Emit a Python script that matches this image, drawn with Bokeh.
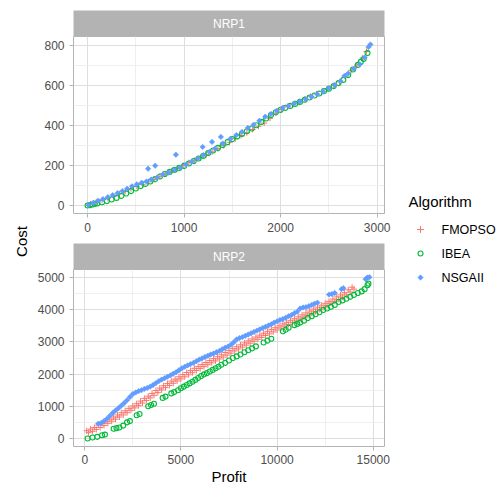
from bokeh.plotting import figure
from bokeh.layouts import row, column
from bokeh.models import Range1d, FixedTicker
from bokeh.core.properties import value
from bokeh.embed import file_html
from bokeh.resources import INLINE
import math

# ---------------- data ----------------
algorithms = ["FMOPSO", "IBEA", "NSGAII"]
colors = ["#F8766D", "#00BA38", "#619CFF"]
panels = ["NRP1", "NRP2"]
legend_title = "Algorithm"

# NRP1
nrp1_fmopso_profit = [30, 90, 150, 210, 270, 330, 390, 450, 510, 570, 630, 690, 750, 810, 870, 930, 990, 1050,
                      1110, 1170, 1230, 1290, 1350, 1410, 1470, 1530, 1590, 1650, 1710, 1770, 1830, 1890, 1950,
                      2010, 2070, 2130, 2190, 2250, 2310, 2370, 2430, 2490, 2550, 2610, 2670, 2730, 2790, 2850, 2890]
nrp1_fmopso_cost = [8, 18, 26, 36, 46, 58, 72, 84, 96, 106, 118, 130, 146, 158, 172, 185, 200, 214,
                    226, 240, 254, 268, 284, 300, 316, 334, 350, 364, 380, 396, 412, 436, 462,
                    480, 494, 506, 518, 532, 546, 558, 570, 584, 600, 618, 644, 676, 702, 738, 770]

nrp1_ibea_profit = [0, 25, 50, 75, 100, 150, 200, 250, 300, 350, 400, 450, 500, 550, 600, 650, 700, 750, 800,
                    850, 900, 950, 1000, 1050, 1100, 1150, 1200, 1250, 1300, 1350, 1400, 1450, 1500, 1550,
                    1600, 1650, 1700, 1750, 1800, 1850, 1900, 1950, 2000, 2050, 2100, 2150, 2200, 2250, 2300,
                    2350, 2400, 2450, 2500, 2550, 2600, 2650, 2700, 2750, 2800, 2830, 2860, 2900]
nrp1_ibea_cost = [0, 2, 5, 8, 10, 16, 22, 30, 38, 48, 60, 72, 85, 97, 108, 120, 132, 145, 157,
                  168, 178, 188, 198, 210, 222, 235, 248, 262, 275, 288, 302, 317, 332, 345,
                  358, 371, 385, 401, 418, 435, 452, 466, 478, 488, 498, 508, 518, 529, 540,
                  550, 560, 572, 584, 597, 612, 628, 652, 680, 703, 718, 732, 762]

nrp1_nsgaii_profit = [10, 60, 110, 160, 210, 260, 310, 360, 410, 460, 510, 560, 610, 660, 720, 780, 840, 900,
                      960, 1020, 1080, 1140, 1200, 1260, 1320, 1400, 1480, 1540, 1600, 1660, 1720, 1780, 1840,
                      1900, 1960, 2020, 2080, 2140, 2200, 2260, 2320, 2380, 2440, 2500, 2560, 2620, 2660, 2700,
                      2760, 2820, 2870, 2910, 2930, 627, 700, 915, 1192, 1289, 1381]
nrp1_nsgaii_cost = [3, 14, 24, 32, 42, 52, 62, 72, 84, 96, 106, 114, 120, 130, 140, 155, 165, 178,
                    190, 205, 220, 235, 252, 268, 284, 310, 334, 352, 368, 388, 404, 424, 444,
                    458, 474, 488, 498, 510, 520, 532, 544, 556, 570, 586, 602, 622, 648, 660,
                    684, 706, 740, 792, 805, 184, 199, 254, 293, 318, 343]

# NRP2
nrp2_fmopso_profit = [100, 300, 500, 700, 900, 1100, 1300, 1500, 1700, 1900, 2100, 2300, 2500, 2700, 2900,
                      3100, 3300, 3500, 3700, 3900, 4100, 4300, 4500, 4700, 4900, 5100, 5300, 5500, 5700,
                      5900, 6100, 6300, 6500, 6700, 6900, 7100, 7300, 7500, 7700, 7900, 8100, 8300, 8500,
                      8700, 8900, 9100, 9300, 9500, 9700, 9900, 10100, 10300, 10500, 10700, 10900, 11100,
                      11300, 11500, 11700, 11900, 12100, 12300, 12500, 12700, 12900, 13100, 13300, 13500,
                      13700, 13900,
                      200, 400, 600, 800, 1000, 1200, 1400, 1600, 1800, 2000, 2200, 2400, 2600, 2800, 3000,
                      3200, 3400, 3600, 3800, 4000, 4200, 4400, 4600, 4800, 5000, 5200, 5400, 5600, 5800,
                      6000, 6200, 6400, 6600, 6800, 7000, 7200, 7400, 7600, 7800, 8000, 8200, 8400, 8600,
                      8800, 9000, 9200, 9400, 9600, 9800, 10000, 10200, 10400, 10600, 10800, 11000, 11200,
                      11400, 11600, 11800, 12000, 12200, 12400, 12600, 12800, 13000, 13200, 13400, 13600,
                      13800, 14000]
nrp2_fmopso_cost = [240, 290, 340, 415, 470, 530, 600, 665, 730, 800, 860, 935, 1010, 1080, 1160,
                    1245, 1315, 1400, 1490, 1565, 1640, 1710, 1780, 1845, 1915, 1985, 2050, 2110, 2180,
                    2240, 2300, 2360, 2420, 2480, 2540, 2600, 2670, 2730, 2790, 2850, 2910, 2970, 3030,
                    3090, 3150, 3210, 3270, 3330, 3390, 3440, 3500, 3560, 3610, 3670, 3720, 3780,
                    3840, 3900, 3960, 4020, 4080, 4140, 4200, 4260, 4330, 4400, 4460, 4530,
                    4620, 4700,
                    180, 220, 280, 340, 400, 470, 535, 600, 665, 730, 800, 875, 950, 1020, 1100,
                    1180, 1260, 1340, 1425, 1510, 1580, 1645, 1715, 1785, 1850, 1915, 1980, 2045, 2110,
                    2170, 2230, 2290, 2350, 2410, 2470, 2530, 2590, 2650, 2720, 2780, 2840, 2900, 2960,
                    3020, 3080, 3140, 3200, 3250, 3310, 3370, 3430, 3490, 3540, 3600, 3650, 3710,
                    3770, 3830, 3890, 3950, 4010, 4070, 4130, 4200, 4260, 4320, 4390, 4460,
                    4550, 4640]

nrp2_ibea_profit = [150, 400, 650, 900, 1050, 1500, 1650, 1800, 2000, 2200, 2350, 2700, 2850, 3300, 3450, 3600,
                    4050, 4200, 4500, 4650, 4850, 5000, 5150, 5300, 5450, 5600, 5750, 5900, 6050, 6200, 6350,
                    6500, 6650, 6800, 6950, 7100, 7300, 7500, 7700, 7900, 8100, 8300, 8500, 8700, 8900, 9300,
                    9500, 9700, 10300, 10450, 10600, 10900, 11050, 11200, 11400, 11600, 11800, 12000, 12200,
                    12400, 12600, 12800, 13000, 13200, 13400, 13600, 13800, 14000, 14200, 14400, 14550,
                    14700, 14750]
nrp2_ibea_cost = [0, 30, 50, 100, 120, 300, 320, 340, 400, 500, 540, 720, 760, 1000, 1040, 1080,
                  1260, 1300, 1400, 1440, 1500, 1560, 1610, 1660, 1710, 1760, 1820, 1880, 1940, 1990, 2030,
                  2080, 2130, 2180, 2230, 2290, 2350, 2420, 2500, 2550, 2610, 2680, 2740, 2800, 2860, 2980,
                  3040, 3100, 3330, 3380, 3440, 3520, 3560, 3600, 3660, 3740, 3800, 3860, 3920,
                  3990, 4040, 4090, 4150, 4240, 4290, 4340, 4400, 4460, 4520, 4570, 4640,
                  4760, 4810]

nrp2_nsgaii_profit = [700, 850, 1000, 1150, 1300, 1450, 1600, 1750, 1900, 2050, 2200, 2350, 2500, 2650, 2800,
                      2950, 3100, 3250, 3400, 3550, 3700, 3850, 4000, 4150, 4300, 4450, 4600, 4750, 4900, 5050,
                      5200, 5350, 5500, 5650, 5800, 5950, 6100, 6250, 6400, 6550, 6700, 6850, 7000, 7150, 7300,
                      7450, 7600, 7750, 7900, 8050, 8200, 8350, 8500, 8650, 8800, 8950, 9100, 9250, 9400, 9550,
                      9700, 9850, 10000, 10150, 10300, 10450, 10600, 10750, 10900, 11050, 11200, 11350, 11500,
                      11650, 11800, 11950, 12100, 12700, 12850, 13000, 13350, 13450, 14600, 14700, 14800]
nrp2_nsgaii_cost = [460, 480, 540, 610, 700, 790, 870, 940, 1020, 1100, 1190, 1290, 1380, 1430, 1470,
                    1500, 1540, 1570, 1610, 1660, 1720, 1780, 1830, 1870, 1920, 1960, 2010, 2060, 2120, 2180,
                    2230, 2270, 2310, 2350, 2400, 2450, 2490, 2530, 2570, 2610, 2640, 2680, 2720, 2770, 2820,
                    2860, 2910, 2990, 3080, 3120, 3150, 3190, 3230, 3270, 3310, 3350, 3390, 3430, 3470, 3510,
                    3550, 3600, 3640, 3680, 3710, 3750, 3800, 3840, 3890, 3940, 4040, 4070, 4080,
                    4110, 4150, 4190, 4220, 4470, 4490, 4520, 4640, 4670, 4950, 5000, 5010]

nrp1_x_ticks = [0, 1000, 2000, 3000]
nrp1_x_minor = [500, 1500, 2500]
nrp1_y_ticks = [0, 200, 400, 600, 800]
nrp1_y_minor = [100, 300, 500, 700]
nrp2_x_ticks = [0, 5000, 10000, 15000]
nrp2_x_minor = [2500, 7500, 12500]
nrp2_y_ticks = [0, 1000, 2000, 3000, 4000, 5000]
nrp2_y_minor = [500, 1500, 2500, 3500, 4500]

# ---------------- styling ----------------
FONT = "Liberation Sans"
STRIP = "#b3b3b3"
BORDER = "#b3b3b3"
GRID_MAJOR = "#dedede"
GRID_MINOR = "#efefef"
TICK_LABEL = "#4d4d4d"

LEFT = 38
RIGHT = 10
MAIN_W = 360
TOTAL_H = 487


def strip(label, h, top):
    s = figure(width=MAIN_W, height=h, x_range=Range1d(0, 1), y_range=Range1d(0, 1),
               output_backend="svg", toolbar_location=None,
               min_border_left=LEFT, min_border_right=RIGHT, min_border_top=top, min_border_bottom=0)
    s.axis.visible = False
    s.grid.visible = False
    s.outline_line_color = None
    s.background_fill_color = STRIP
    s.border_fill_color = "white"
    s.text(x=[0.5], y=[0.5], text=[label], text_color="white", text_font=value(FONT),
           text_font_size="12px", text_align="center", text_baseline="middle")
    return s


def add_markers(fig, idx, xs, ys, scale=1.0):
    if idx == 0:
        fig.scatter(xs, ys, marker="cross", size=6 * scale, line_color=colors[0], line_width=1)
    elif idx == 1:
        fig.scatter(xs, ys, marker="circle", size=5, line_color=colors[1], fill_color=None, line_width=1.1)
    else:
        fig.scatter(xs, ys, marker="square", angle=math.pi / 4, size=3.8, line_color=colors[2],
                    fill_color=colors[2], line_width=0.6)


def panel(h, bottom, xr, yr, xt, xm, yt, ym, data, xlabel=None):
    p = figure(width=MAIN_W, height=h, x_range=Range1d(*xr), y_range=Range1d(*yr),
               output_backend="svg", toolbar_location=None,
               min_border_left=LEFT, min_border_right=RIGHT, min_border_top=0, min_border_bottom=bottom)
    p.outline_line_color = BORDER
    p.outline_line_width = 1
    p.background_fill_color = "white"
    p.border_fill_color = "white"
    p.xaxis.ticker = FixedTicker(ticks=xt, minor_ticks=xm)
    p.yaxis.ticker = FixedTicker(ticks=yt, minor_ticks=ym)
    for ax in (p.xaxis, p.yaxis):
        ax.axis_line_color = None
        ax.major_tick_line_color = BORDER
        ax.major_tick_out = 4
        ax.major_tick_in = 0
        ax.minor_tick_line_color = None
        ax.major_label_text_color = TICK_LABEL
        ax.major_label_text_font = FONT
        ax.major_label_text_font_size = "12px"
        ax.major_label_standoff = 5
    p.xgrid.grid_line_color = GRID_MAJOR
    p.ygrid.grid_line_color = GRID_MAJOR
    p.xgrid.minor_grid_line_color = GRID_MINOR
    p.ygrid.minor_grid_line_color = GRID_MINOR
    if xlabel:
        p.xaxis.major_label_standoff = 4
        p.xaxis.axis_label = xlabel
        p.xaxis.axis_label_text_font = FONT
        p.xaxis.axis_label_text_font_size = "15px"
        p.xaxis.axis_label_text_font_style = "normal"
        p.xaxis.axis_label_text_color = "black"
        p.xaxis.axis_label_standoff = 1
    for i, (xs, ys) in enumerate(data):
        add_markers(p, i, xs, ys)
    return p


s1 = strip(panels[0], 36, 10)
p1 = panel(207, 30, (-146, 3076), (-40, 845), nrp1_x_ticks, nrp1_x_minor, nrp1_y_ticks, nrp1_y_minor,
           [(nrp1_fmopso_profit, nrp1_fmopso_cost), (nrp1_ibea_profit, nrp1_ibea_cost),
            (nrp1_nsgaii_profit, nrp1_nsgaii_cost)])
s2 = strip(panels[1], 26, 0)
p2 = panel(218, 40, (-585, 15585), (-250, 5250), nrp2_x_ticks, nrp2_x_minor, nrp2_y_ticks, nrp2_y_minor,
           [(nrp2_fmopso_profit, nrp2_fmopso_cost), (nrp2_ibea_profit, nrp2_ibea_cost),
            (nrp2_nsgaii_profit, nrp2_nsgaii_cost)], xlabel="Profit")

# y axis title
c = figure(width=34, height=TOTAL_H, x_range=Range1d(0, 34), y_range=Range1d(TOTAL_H, 0),
           output_backend="svg", toolbar_location=None, min_border=0)
c.axis.visible = False
c.grid.visible = False
c.outline_line_color = None
c.text(x=[21], y=[241], text=["Cost"], angle=math.pi / 2, text_font=value(FONT), text_font_size="15px",
       text_color="black", text_align="center", text_baseline="middle")

# legend (drawn in pixel space of its own figure)
LG_W = 103
lg = figure(width=LG_W, height=TOTAL_H, x_range=Range1d(0, LG_W), y_range=Range1d(TOTAL_H, 0),
            output_backend="svg", toolbar_location=None, min_border=0)
lg.axis.visible = False
lg.grid.visible = False
lg.outline_line_color = None
lg.text(x=[14], y=[201], text=[legend_title], text_font=value(FONT), text_font_size="15px",
        text_color="black", text_align="left", text_baseline="middle")
key_y = [229, 253, 277]
for i, name in enumerate(algorithms):
    add_markers(lg, i, [26], [key_y[i]], scale=1.15)
lg.text(x=[47, 47, 47], y=key_y, text=algorithms, text_font=value(FONT), text_font_size="12.5px",
        text_color="black", text_align="left", text_baseline="middle")

main = column(s1, p1, s2, p2, spacing=0)
layout = row(c, main, lg, spacing=0)

open("out.html", "w").write(file_html(layout, INLINE))
